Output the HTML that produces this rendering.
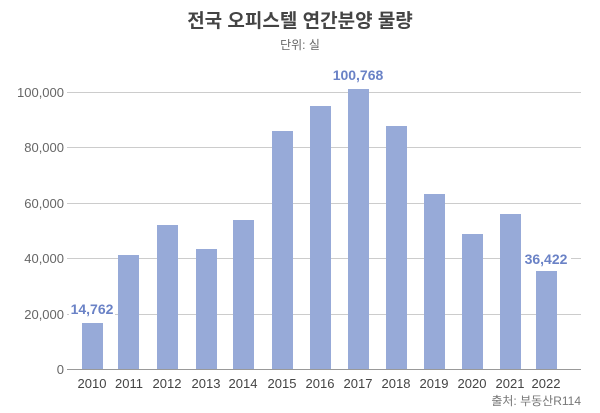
<!DOCTYPE html>
<html><head><meta charset="utf-8"><style>
body{margin:0;background:#fff;}
svg{display:block;font-family:"Liberation Sans","Noto Sans CJK KR",sans-serif;}
</style></head><body>
<svg width="600" height="413" viewBox="0 0 600 413">
<text x="300" y="27" text-anchor="middle" font-size="19" font-weight="bold" fill="#444">전국 오피스텔 연간분양 물량</text>
<text x="300" y="49" text-anchor="middle" font-size="12" fill="#666">단위: 실</text>
<g stroke="#ccc" stroke-width="1">
<line x1="67" x2="581" y1="92.5" y2="92.5"/><line x1="67" x2="581" y1="147.5" y2="147.5"/>
<line x1="67" x2="581" y1="203.5" y2="203.5"/><line x1="67" x2="581" y1="258.5" y2="258.5"/>
<line x1="67" x2="581" y1="314.5" y2="314.5"/>
</g>
<g font-size="13" fill="#666" text-anchor="end">
<text x="64" y="97">100,000</text><text x="64" y="152">80,000</text><text x="64" y="208">60,000</text>
<text x="64" y="263">40,000</text><text x="64" y="319">20,000</text><text x="64" y="374">0</text>
</g>
<g fill="#97aad8">
<rect x="82" y="323" width="21" height="46"/>
<rect x="118" y="255" width="21" height="114"/>
<rect x="157" y="225" width="21" height="144"/>
<rect x="196" y="249" width="21" height="120"/>
<rect x="233" y="220" width="21" height="149"/>
<rect x="272" y="131" width="21" height="238"/>
<rect x="310" y="106" width="21" height="263"/>
<rect x="348" y="89" width="21" height="280"/>
<rect x="386" y="126" width="21" height="243"/>
<rect x="424" y="194" width="21" height="175"/>
<rect x="462" y="234" width="21" height="135"/>
<rect x="500" y="214" width="21" height="155"/>
<rect x="536" y="271" width="21" height="98"/>
</g>
<line x1="67" x2="581" y1="369.5" y2="369.5" stroke="#999" stroke-width="1"/>
<g font-size="13" fill="#444" text-anchor="middle">
<text x="92" y="388">2010</text><text x="129" y="388">2011</text><text x="167" y="388">2012</text>
<text x="206" y="388">2013</text><text x="243" y="388">2014</text><text x="282" y="388">2015</text>
<text x="320" y="388">2016</text><text x="358" y="388">2017</text><text x="396" y="388">2018</text>
<text x="434" y="388">2019</text><text x="472" y="388">2020</text><text x="510" y="388">2021</text>
<text x="546" y="388">2022</text>
</g>
<rect x="69" y="300" width="46" height="17" fill="#fff"/>
<rect x="521" y="251" width="50" height="17" fill="#fff"/>
<g font-size="14" font-weight="bold" fill="#6a82c6" text-anchor="middle">
<text x="92" y="314">14,762</text>
<text x="358" y="80">100,768</text>
<text x="546" y="264">36,422</text>
</g>
<text x="581" y="405" text-anchor="end" font-size="12" fill="#777">출처: 부동산R114</text>
</svg>
</body></html>
